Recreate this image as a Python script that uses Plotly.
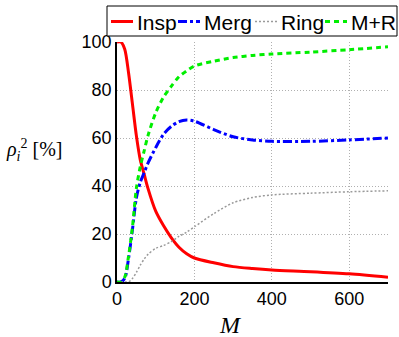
import plotly.graph_objects as go

M = [0, 10, 20, 30, 40, 50, 60, 70, 80, 100, 120, 140, 160, 180, 200, 250, 300, 350, 400, 500, 600, 700]
insp = [100, 100, 97, 87, 74, 61, 51, 45, 39, 29.5, 23.5, 18.5, 14.5, 11.8, 10, 8, 6.4, 5.6, 5, 4.3, 3.4, 2.0]
merg = [0, 0, 1.5, 10, 22, 35, 41.5, 45.5, 49.5, 56, 61.5, 64.8, 66.8, 67.5, 67, 63.5, 60.5, 59.2, 58.6, 58.6, 59.2, 60]
ring = [0, 0, 0, 0, 1.5, 4, 7, 9.5, 11.5, 14, 15.2, 16.8, 19, 20.8, 23, 28.5, 33, 35.2, 36.3, 37, 37.6, 38]
mr = [0, 0, 2, 11, 23, 39, 48, 54.5, 61, 70.5, 77, 81.5, 85.5, 88, 90, 92, 93.5, 94.4, 95, 95.8, 96.8, 98]

names = ["Insp", "Merg", "Ring", "M+R"]
colors = ["#ff0000", "#0000ff", "#9a9a9a", "#00ee00"]
dashes = ["solid", "dashdot", "2px,2px", "5px,4px"]
widths = [3, 3, 1.5, 3]

x_ticks = [0, 200, 400, 600]
y_ticks = [0, 20, 40, 60, 80, 100]

# plot area in pixels (for converting legend layout to paper coords)
L, R, T, B = 117, 388, 42, 282
def px(x): return (x - L) / (R - L)
def py(y): return (B - y) / (B - T)

fig = go.Figure()
for nm, ys, c, d, w in zip(names, [insp, merg, ring, mr], colors, dashes, widths):
    fig.add_trace(go.Scatter(x=M, y=ys, name=nm, mode="lines",
                             line=dict(color=c, width=w, dash=d, shape="spline", smoothing=0.8),
                             showlegend=False))

grid = dict(showgrid=True, gridcolor="#b0b0b0", griddash="1px,2px", gridwidth=1,
            showline=True, linecolor="black", linewidth=1.5, zeroline=False, ticks="", ticklen=0)
fig.update_layout(
    width=399, height=337,
    margin=dict(l=L, r=399 - R, t=T, b=337 - B, autoexpand=False),
    paper_bgcolor="white", plot_bgcolor="white",
    font=dict(family="Liberation Sans, Arial, sans-serif", size=18, color="black"),
    xaxis=dict(range=[0, 700], tickvals=x_ticks, **grid),
    yaxis=dict(range=[0, 100], tickvals=y_ticks, **grid),
    showlegend=False,
)

# legend box
fig.add_shape(type="rect", xref="paper", yref="paper", x0=px(107), x1=px(397), y0=py(36), y1=py(6),
              line=dict(color="black", width=1), fillcolor="white", layer="above")
line_x = [(111, 133), (178, 200), (255, 278), (325, 347)]
text_x = [136, 203, 280, 350]
for nm, c, d, w, (a, b), tx in zip(names, colors, dashes, widths, line_x, text_x):
    fig.add_shape(type="line", xref="paper", yref="paper", x0=px(a), x1=px(b), y0=py(21.5), y1=py(21.5),
                  line=dict(color=c, width=w, dash=d), layer="above")
    fig.add_annotation(text=nm, xref="paper", yref="paper", x=px(tx), y=py(22), xanchor="left",
                       yanchor="middle", showarrow=False, borderpad=0, font=dict(size=21))

fig.add_annotation(text="<i>ρ</i><sub><i>i</i></sub><sup>2</sup> [%]", xref="paper", yref="paper",
                   x=px(63), y=py(150), xanchor="right", yanchor="middle", showarrow=False,
                   borderpad=0, font=dict(family="Liberation Serif, serif", size=20))
fig.add_annotation(text="<i>M</i>", xref="paper", yref="paper", x=px(230), y=py(325),
                   xanchor="center", yanchor="middle", showarrow=False,
                   font=dict(family="Liberation Serif, serif", size=24))

fig.write_html("out.html", config={"displayModeBar": False},
               post_script="document.body.style.margin='0';document.body.style.padding='0';")
